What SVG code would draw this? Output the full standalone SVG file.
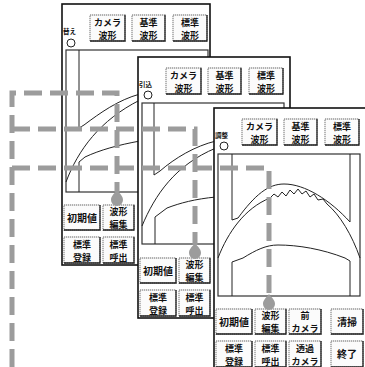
<svg xmlns="http://www.w3.org/2000/svg" width="365" height="367" viewBox="0 0 365 367">
<style>
.panel{fill:#fff;stroke:#111;stroke-width:1.6}
.frame{fill:none;stroke:#333;stroke-width:1.2}
.wave{fill:none;stroke:#222;stroke-width:1}
.btn rect{fill:#fbfbfb;stroke:#999;stroke-width:1.4;stroke-dasharray:1.3 0.7}
.btn path{fill:none;stroke:#222;stroke-width:1.3}
.bt{font-family:"Noto Sans CJK JP","Noto Sans CJK SC",sans-serif;font-size:9px;font-weight:bold;fill:#111;text-anchor:middle}
.bs{font-family:"Noto Sans CJK JP","Noto Sans CJK SC",sans-serif;font-size:10px;font-weight:bold;fill:#111;text-anchor:middle}
.lbl{font-family:"Noto Sans CJK JP","Noto Sans CJK SC",sans-serif;font-size:6.5px;font-weight:bold;fill:#111}
.led{fill:#fff;stroke:#222;stroke-width:1}
.dash{fill:none;stroke:#9c9c9c;stroke-width:5;stroke-dasharray:18 8}
.head{fill:#9c9c9c}
</style>

<g id="screen1">
<rect class="panel" x="62" y="4" width="148" height="261"/>
<g class="btn"><rect x="90" y="15" width="35" height="26"/><path d="M125,15 V41 H90"/><text class="bt"><tspan x="107.5" y="25.5">カメラ</tspan><tspan x="107.5" y="38.5">波形</tspan></text></g>
<g class="btn"><rect x="132" y="15" width="33" height="26"/><path d="M165,15 V41 H132"/><text class="bt"><tspan x="148.5" y="25.5">基準</tspan><tspan x="148.5" y="38.5">波形</tspan></text></g>
<g class="btn"><rect x="173" y="15" width="34" height="26"/><path d="M207,15 V41 H173"/><text class="bt"><tspan x="190" y="25.5">標準</tspan><tspan x="190" y="38.5">波形</tspan></text></g>
<text class="lbl" x="63" y="34">替え</text>
<circle class="led" cx="71" cy="43" r="4"/>
<rect class="frame" x="66" y="50" width="142" height="142"/>
<path class="wave" d="M79,50 V128 L84,125 C100,113 118,100 140,94"/>
<path class="wave" d="M66,182 C78,150 100,120 140,100"/>
<path class="wave" d="M79,192 V162 L85,157 C100,150 118,145 140,141"/>
<g class="btn"><rect x="64" y="205" width="36" height="25"/><path d="M100,205 V230 H64"/><text class="bs" x="82" y="221.5">初期値</text></g>
<g class="btn"><rect x="103" y="205" width="31" height="25"/><path d="M134,205 V230 H103"/><text class="bt"><tspan x="118.5" y="215">波形</tspan><tspan x="118.5" y="228">編集</tspan></text></g>
<g class="btn"><rect x="64" y="237" width="36" height="26"/><path d="M100,237 V263 H64"/><text class="bt"><tspan x="82" y="247.5">標準</tspan><tspan x="82" y="260.5">登録</tspan></text></g>
<g class="btn"><rect x="103" y="237" width="31" height="26"/><path d="M134,237 V263 H103"/><text class="bt"><tspan x="118.5" y="247.5">標準</tspan><tspan x="118.5" y="260.5">呼出</tspan></text></g>
</g>

<g id="screen2">
<rect class="panel" x="138" y="57" width="152" height="261"/>
<g class="btn"><rect x="166" y="68" width="35" height="26"/><path d="M201,68 V94 H166"/><text class="bt"><tspan x="183.5" y="78.5">カメラ</tspan><tspan x="183.5" y="91.5">波形</tspan></text></g>
<g class="btn"><rect x="208" y="68" width="33" height="26"/><path d="M241,68 V94 H208"/><text class="bt"><tspan x="224.5" y="78.5">基準</tspan><tspan x="224.5" y="91.5">波形</tspan></text></g>
<g class="btn"><rect x="249" y="68" width="34" height="26"/><path d="M283,68 V94 H249"/><text class="bt"><tspan x="266" y="78.5">標準</tspan><tspan x="266" y="91.5">波形</tspan></text></g>
<text class="lbl" x="139" y="87">引込</text>
<circle class="led" cx="148" cy="95" r="4"/>
<rect class="frame" x="142" y="103" width="142" height="141"/>
<path class="wave" d="M154,103 V175 L160,171 C175,158 195,146 216,141"/>
<path class="wave" d="M142,226 C155,195 175,165 216,148"/>
<path class="wave" d="M155,244 V217 L167,208 C180,203 195,199 216,197"/>
<g class="btn"><rect x="140" y="258" width="36" height="25"/><path d="M176,258 V283 H140"/><text class="bs" x="158" y="274.5">初期値</text></g>
<g class="btn"><rect x="179" y="258" width="31" height="25"/><path d="M210,258 V283 H179"/><text class="bt"><tspan x="194.5" y="268">波形</tspan><tspan x="194.5" y="281">編集</tspan></text></g>
<g class="btn"><rect x="140" y="290" width="36" height="26"/><path d="M176,290 V316 H140"/><text class="bt"><tspan x="158" y="300.5">標準</tspan><tspan x="158" y="313.5">登録</tspan></text></g>
<g class="btn"><rect x="179" y="290" width="31" height="26"/><path d="M210,290 V316 H179"/><text class="bt"><tspan x="194.5" y="300.5">標準</tspan><tspan x="194.5" y="313.5">呼出</tspan></text></g>
</g>

<g id="screen3">
<rect class="panel" x="214" y="108" width="160" height="270"/>
<g class="btn"><rect x="242" y="119" width="35" height="26"/><path d="M277,119 V145 H242"/><text class="bt"><tspan x="259.5" y="129.5">カメラ</tspan><tspan x="259.5" y="142.5">波形</tspan></text></g>
<g class="btn"><rect x="284" y="119" width="33" height="26"/><path d="M317,119 V145 H284"/><text class="bt"><tspan x="300.5" y="129.5">基準</tspan><tspan x="300.5" y="142.5">波形</tspan></text></g>
<g class="btn"><rect x="325" y="119" width="34" height="26"/><path d="M359,119 V145 H325"/><text class="bt"><tspan x="342" y="129.5">標準</tspan><tspan x="342" y="142.5">波形</tspan></text></g>
<text class="lbl" x="215" y="138">調整</text>
<circle class="led" cx="224" cy="146" r="4"/>
<rect class="frame" x="218" y="154" width="142" height="142"/>
<path class="wave" d="M232,154 V220 L238,218 C255,195 268,184 284,184 C305,184 330,200 350,222 V154"/>
<path class="wave" d="M218,258 C228,232 245,208 270,198 L274,194 L278,197 L282,192 L286,196 L290,190 L294,194 L298,189 L302,194 L306,191 L310,197 L314,194 L318,200 L323,199 L327,204 C340,215 352,235 360,258"/>
<path class="wave" d="M232,296 V262 L243,258 C256,250 266,245 278,245 C298,245 322,249 345,258 L350,261 V296"/>
<g class="btn"><rect x="216" y="309" width="36" height="25"/><path d="M252,309 V334 H216"/><text class="bs" x="234" y="325.5">初期値</text></g>
<g class="btn"><rect x="255" y="309" width="31" height="25"/><path d="M286,309 V334 H255"/><text class="bt"><tspan x="270.5" y="319">波形</tspan><tspan x="270.5" y="332">編集</tspan></text></g>
<g class="btn"><rect x="289" y="309" width="32" height="25"/><path d="M321,309 V334 H289"/><text class="bt"><tspan x="305" y="319">前</tspan><tspan x="305" y="332">カメラ</tspan></text></g>
<g class="btn"><rect x="331" y="309" width="32" height="25"/><path d="M363,309 V334 H331"/><text class="bs" x="347" y="325.5">清掃</text></g>
<g class="btn"><rect x="216" y="341" width="36" height="26"/><path d="M252,341 V367 H216"/><text class="bt"><tspan x="234" y="351.5">標準</tspan><tspan x="234" y="364.5">登録</tspan></text></g>
<g class="btn"><rect x="255" y="341" width="31" height="26"/><path d="M286,341 V367 H255"/><text class="bt"><tspan x="270.5" y="351.5">標準</tspan><tspan x="270.5" y="364.5">呼出</tspan></text></g>
<g class="btn"><rect x="289" y="341" width="32" height="26"/><path d="M321,341 V367 H289"/><text class="bt"><tspan x="305" y="351.5">透過</tspan><tspan x="305" y="364.5">カメラ</tspan></text></g>
<g class="btn"><rect x="331" y="341" width="32" height="26"/><path d="M363,341 V367 H331"/><text class="bs" x="347" y="357.5">終了</text></g>
</g>

<g id="connectors">
<path class="dash" d="M12,367 V93 H117 V192"/>
<path class="dash" d="M12,129 H195 V245"/>
<path class="dash" d="M12,168 H269 V297"/>
<path class="head" d="M117,190 C120,194 123,196 123,200 A6,6 0 0 1 111,200 C111,196 114,194 117,190 Z"/>
<path class="head" d="M195,243 C198,247 201,249 201,253 A6,6 0 0 1 189,253 C189,249 192,247 195,243 Z"/>
<path class="head" d="M269,294 C272,298 275,300 275,304 A6,6 0 0 1 263,304 C263,300 266,298 269,294 Z"/>
</g>
</svg>
